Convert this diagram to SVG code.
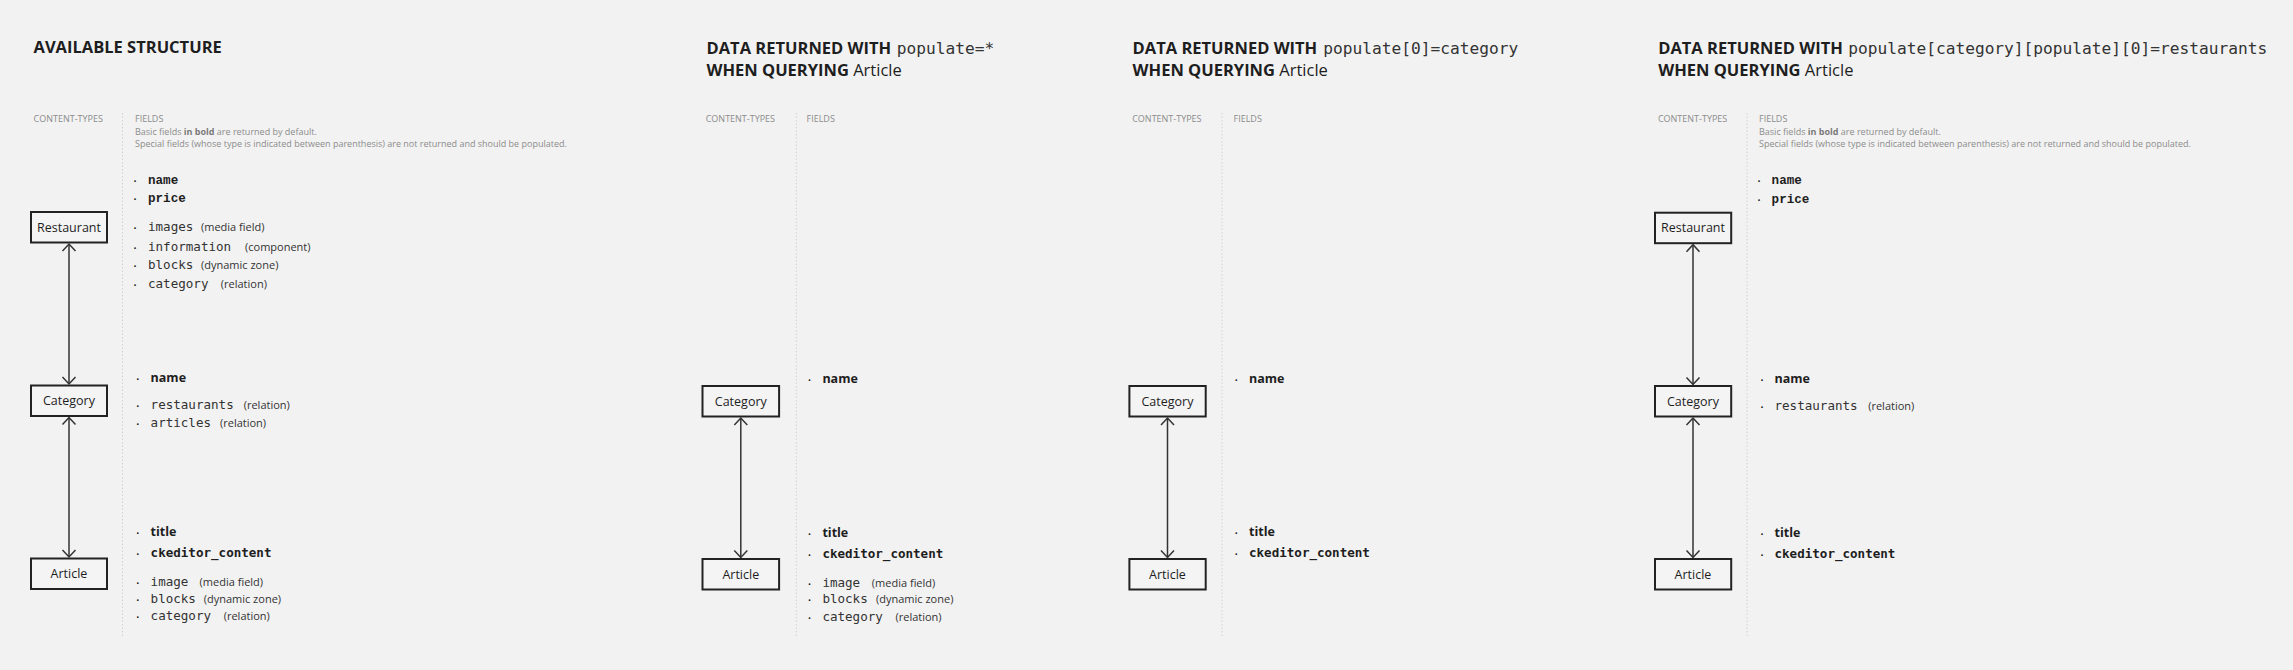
<svg xmlns="http://www.w3.org/2000/svg" width="2293" height="670" viewBox="0 0 2293 670">
<defs>
<style>
.bg{fill:#f2f2f2}
.h{font-family:"Open Sans","Noto Sans",sans-serif;font-size:16.5px;font-weight:700;fill:#1e1e1e}
.hr{font-weight:400}
.hm{font-family:"DejaVu Sans Mono","Liberation Mono",monospace;font-size:16.2px;font-weight:400;fill:#333}
.lbl{font-family:"Open Sans","Noto Sans",sans-serif;font-size:9px;fill:#8c8c8c}
.lbl .b{font-weight:700;fill:#7a7a7a}
.sep{stroke:#d2d2d2;stroke-width:1;stroke-dasharray:1.5 2;fill:none}
.box rect{fill:#f4f4f4;stroke:#222;stroke-width:2}
.box text{font-family:"Open Sans","Noto Sans",sans-serif;font-size:12.5px;fill:#1e1e1e;text-anchor:middle}
.bul{font-family:"Open Sans","Noto Sans",sans-serif;font-size:8px;fill:#222}
.fm{font-family:"DejaVu Sans Mono","Liberation Mono",monospace;font-size:12.55px;fill:#333}
.fmb{font-family:"Liberation Mono","DejaVu Sans Mono",monospace;font-size:12.6px;font-weight:700;fill:#1e1e1e}
.fmd{font-family:"DejaVu Sans Mono","Liberation Mono",monospace;font-size:12.55px;font-weight:700;fill:#1e1e1e}
.fsb{font-family:"Open Sans","Noto Sans",sans-serif;font-size:12.5px;font-weight:700;fill:#1e1e1e}
.par{font-family:"Open Sans","Noto Sans",sans-serif;font-size:11px;fill:#333}
.con{stroke:#333;stroke-width:1.5;fill:none;marker-start:url(#chev);marker-end:url(#chev)}
</style>
<marker id="chev" markerUnits="userSpaceOnUse" markerWidth="20" markerHeight="20" viewBox="-10 -10 20 20" refX="0" refY="0" orient="auto-start-reverse">
<path d="M-7,-6.5 L0,0 L-7,6.5" fill="none" stroke="#333" stroke-width="1.5"/>
</marker>
</defs>
<rect class="bg" x="0" y="0" width="2293" height="670"/>

<!-- Panel 1 -->
<g id="panel1-header">
<text class="h" x="33.5" y="53">AVAILABLE STRUCTURE</text>
<text class="lbl" x="33.5" y="122">CONTENT-TYPES</text>
<text class="lbl" x="135" y="122">FIELDS</text>
<text class="lbl" x="135" y="134.7">Basic fields <tspan class="b">in bold</tspan> are returned by default.</text>
<text class="lbl" x="135" y="147">Special fields (whose type is indicated between parenthesis) are not returned and should be populated.</text>
<line class="sep" x1="122.5" y1="113" x2="122.5" y2="637"/>
</g>
<g id="p1-restaurant" class="box"><rect x="31" y="212" width="76" height="30.5"/><text x="69" y="231.7">Restaurant</text></g>
<g id="p1-category" class="box"><rect x="31" y="385.5" width="76" height="30.5"/><text x="69" y="405.2">Category</text></g>
<g id="p1-article" class="box"><rect x="31" y="558.5" width="76" height="30.5"/><text x="69" y="578.2">Article</text></g>
<g id="p1-restaurant-fields">
<text class="bul" x="133.5" y="184">•</text><text class="fmb" x="148" y="184">name</text>
<text class="bul" x="133.5" y="201.7">•</text><text class="fmb" x="148" y="201.7">price</text>
<text class="bul" x="133.5" y="231">•</text><text class="fm" x="148" y="231">images</text><text class="par" x="201" y="231">(media field)</text>
<text class="bul" x="133.5" y="250.7">•</text><text class="fm" x="148" y="250.7">information</text><text class="par" x="245" y="250.7">(component)</text>
<text class="bul" x="133.5" y="268.7">•</text><text class="fm" x="148" y="268.7">blocks</text><text class="par" x="201" y="268.7">(dynamic zone)</text>
<text class="bul" x="133.5" y="287.7">•</text><text class="fm" x="148" y="287.7">category</text><text class="par" x="220.8" y="287.7">(relation)</text>
</g>
<g id="p1-category-fields">
<text class="bul" x="136.3" y="381.7">•</text><text class="fsb" x="150.6" y="381.7">name</text>
<text class="bul" x="136.3" y="409.3">•</text><text class="fm" x="150.6" y="409.3">restaurants</text><text class="par" x="243.7" y="409.3">(relation)</text>
<text class="bul" x="136.3" y="427.3">•</text><text class="fm" x="150.6" y="427.3">articles</text><text class="par" x="220" y="427.3">(relation)</text>
</g>
<g id="p1-article-fields">
<text class="bul" x="136.3" y="536">•</text><text class="fsb" x="150.6" y="536">title</text>
<text class="bul" x="136.3" y="557.3">•</text><text class="fmd" x="150.6" y="557.3">ckeditor_content</text>
<text class="bul" x="136.3" y="585.7">•</text><text class="fm" x="150.6" y="585.7">image</text><text class="par" x="199.6" y="585.7">(media field)</text>
<text class="bul" x="136.3" y="602.5">•</text><text class="fm" x="150.6" y="602.5">blocks</text><text class="par" x="203.7" y="602.5">(dynamic zone)</text>
<text class="bul" x="136.3" y="620">•</text><text class="fm" x="150.6" y="620">category</text><text class="par" x="223.7" y="620">(relation)</text>
</g>

<!-- Panel 2 -->
<g id="panel2-header">
<text class="h" x="706.5" y="54">DATA RETURNED WITH</text><text class="hm" x="896.7" y="54">populate=*</text>
<text class="h" x="706.5" y="75.7">WHEN QUERYING <tspan class="hr">Article</tspan></text>
<text class="lbl" x="705.7" y="122">CONTENT-TYPES</text>
<text class="lbl" x="806.5" y="122">FIELDS</text>
<line class="sep" x1="796.3" y1="113" x2="796.3" y2="638"/>
</g>
<g id="p2-category" class="box"><rect x="702.5" y="386" width="76.6" height="30.5"/><text x="740.8" y="405.7">Category</text></g>
<g id="p2-article" class="box"><rect x="702.5" y="559" width="76.6" height="30.5"/><text x="740.8" y="578.7">Article</text></g>
<g id="p2-category-fields">
<text class="bul" x="808" y="382.7">•</text><text class="fsb" x="822.4" y="382.7">name</text>
</g>
<g id="p2-article-fields">
<text class="bul" x="808" y="536.7">•</text><text class="fsb" x="822.4" y="536.7">title</text>
<text class="bul" x="808" y="558.3">•</text><text class="fmd" x="822.4" y="558.3">ckeditor_content</text>
<text class="bul" x="808" y="586.7">•</text><text class="fm" x="822.4" y="586.7">image</text><text class="par" x="871.8" y="586.7">(media field)</text>
<text class="bul" x="808" y="603.3">•</text><text class="fm" x="822.4" y="603.3">blocks</text><text class="par" x="876" y="603.3">(dynamic zone)</text>
<text class="bul" x="808" y="621">•</text><text class="fm" x="822.4" y="621">category</text><text class="par" x="895.5" y="621">(relation)</text>
</g>

<!-- Panel 3 -->
<g id="panel3-header">
<text class="h" x="1132.6" y="54">DATA RETURNED WITH</text><text class="hm" x="1323.3" y="54">populate[0]=category</text>
<text class="h" x="1132.6" y="75.7">WHEN QUERYING <tspan class="hr">Article</tspan></text>
<text class="lbl" x="1132.2" y="122">CONTENT-TYPES</text>
<text class="lbl" x="1233.5" y="122">FIELDS</text>
<line class="sep" x1="1222" y1="113" x2="1222" y2="638"/>
</g>
<g id="p3-category" class="box"><rect x="1129.4" y="386" width="76.3" height="30.5"/><text x="1167.5" y="405.7">Category</text></g>
<g id="p3-article" class="box"><rect x="1129.4" y="559" width="76.3" height="30.5"/><text x="1167.5" y="578.7">Article</text></g>
<g id="p3-category-fields">
<text class="bul" x="1234.8" y="383">•</text><text class="fsb" x="1249" y="383">name</text>
</g>
<g id="p3-article-fields">
<text class="bul" x="1234.8" y="536">•</text><text class="fsb" x="1249" y="536">title</text>
<text class="bul" x="1234.8" y="557.3">•</text><text class="fmd" x="1249" y="557.3">ckeditor_content</text>
</g>

<!-- Panel 4 -->
<g id="panel4-header">
<text class="h" x="1658.2" y="54">DATA RETURNED WITH</text><text class="hm" x="1848.2" y="54">populate[category][populate][0]=restaurants</text>
<text class="h" x="1658.2" y="75.7">WHEN QUERYING <tspan class="hr">Article</tspan></text>
<text class="lbl" x="1657.9" y="122">CONTENT-TYPES</text>
<text class="lbl" x="1759" y="122">FIELDS</text>
<text class="lbl" x="1759" y="134.7">Basic fields <tspan class="b">in bold</tspan> are returned by default.</text>
<text class="lbl" x="1759" y="147">Special fields (whose type is indicated between parenthesis) are not returned and should be populated.</text>
<line class="sep" x1="1747" y1="113" x2="1747" y2="638"/>
</g>
<g id="p4-restaurant" class="box"><rect x="1655" y="212.7" width="76.2" height="30.5"/><text x="1693" y="232.4">Restaurant</text></g>
<g id="p4-category" class="box"><rect x="1655" y="386" width="76.2" height="30.5"/><text x="1693" y="405.7">Category</text></g>
<g id="p4-article" class="box"><rect x="1655" y="559" width="76.2" height="30.5"/><text x="1693" y="578.7">Article</text></g>
<g id="p4-restaurant-fields">
<text class="bul" x="1757.6" y="184.3">•</text><text class="fmb" x="1771.6" y="184.3">name</text>
<text class="bul" x="1757.6" y="202.7">•</text><text class="fmb" x="1771.6" y="202.7">price</text>
</g>
<g id="p4-category-fields">
<text class="bul" x="1760.5" y="382.7">•</text><text class="fsb" x="1774.5" y="382.7">name</text>
<text class="bul" x="1760.5" y="410">•</text><text class="fm" x="1774.5" y="410">restaurants</text><text class="par" x="1868.2" y="410">(relation)</text>
</g>
<g id="p4-article-fields">
<text class="bul" x="1760.5" y="536.7">•</text><text class="fsb" x="1774.5" y="536.7">title</text>
<text class="bul" x="1760.5" y="558.3">•</text><text class="fmd" x="1774.5" y="558.3">ckeditor_content</text>
</g>

<g id="connectors">
<path class="con" d="M69,244 L69,384"/>
<path class="con" d="M69,417.5 L69,557"/>
<path class="con" d="M740.8,418 L740.8,557.5"/>
<path class="con" d="M1167.5,418 L1167.5,557.5"/>
<path class="con" d="M1693,244.7 L1693,384.5"/>
<path class="con" d="M1693,418 L1693,557.5"/>
</g>
</svg>
